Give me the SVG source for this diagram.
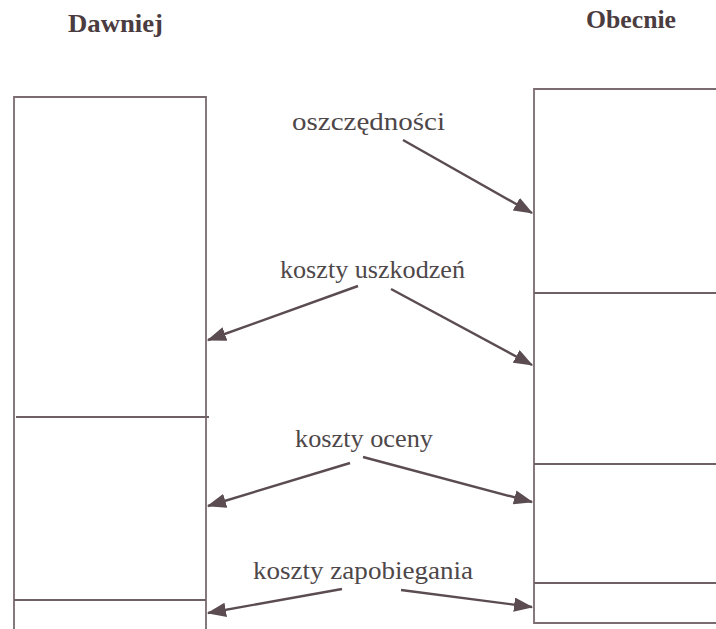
<svg xmlns="http://www.w3.org/2000/svg" width="716" height="629" viewBox="0 0 716 629">
<style>
.box{fill:none;stroke:#7a6c70;stroke-width:1.8}
.div{stroke:#6e6064;stroke-width:1.8}
.head{font-family:"Liberation Serif","Times New Roman",serif;font-weight:bold;font-size:26px;fill:#4a3c40}
.lbl{font-family:"Liberation Serif","Times New Roman",serif;font-size:26px;fill:#4e4749}
.arr{stroke:#5a4c50;stroke-width:2.4;fill:none;marker-end:url(#ah)}
</style>
<defs>
<marker id="ah" markerWidth="8" markerHeight="6" refX="7.5" refY="3" orient="auto" markerUnits="strokeWidth">
<path d="M0,0 L8,3 L0,6 Z" fill="#5a4c50"/>
</marker>
</defs>
<rect width="716" height="629" fill="#ffffff"/>
<g id="dawniej">
<text class="head" x="68" y="32" textLength="95" lengthAdjust="spacingAndGlyphs">Dawniej</text>
<path class="box" d="M14,631 V97 H206 V631"/>
<line class="div" x1="16" y1="417" x2="209" y2="417"/>
<line class="div" x1="14" y1="600" x2="206" y2="600"/>
</g>
<g id="obecnie">
<text class="head" x="586" y="28" textLength="90" lengthAdjust="spacingAndGlyphs">Obecnie</text>
<path class="box" d="M720,89 H534 V623 H720"/>
<line class="div" x1="534" y1="293" x2="720" y2="293"/>
<line class="div" x1="534" y1="464" x2="720" y2="464"/>
<line class="div" x1="534" y1="583" x2="720" y2="583"/>
</g>
<g id="labels">
<text class="lbl" x="292" y="130" textLength="153" lengthAdjust="spacingAndGlyphs">oszczędności</text>
<text class="lbl" x="280" y="278" textLength="185" lengthAdjust="spacingAndGlyphs">koszty uszkodzeń</text>
<text class="lbl" x="295" y="447" textLength="138" lengthAdjust="spacingAndGlyphs">koszty oceny</text>
<text class="lbl" x="253" y="579" textLength="220" lengthAdjust="spacingAndGlyphs">koszty zapobiegania</text>
</g>
<g id="connectors">
<line class="arr" x1="403" y1="140" x2="532" y2="213"/>
<line class="arr" x1="358" y1="286" x2="208" y2="340"/>
<line class="arr" x1="391" y1="289" x2="532" y2="365"/>
<line class="arr" x1="350" y1="463" x2="208" y2="506"/>
<line class="arr" x1="363" y1="457" x2="532" y2="502"/>
<line class="arr" x1="342" y1="589" x2="208" y2="613"/>
<line class="arr" x1="401" y1="590" x2="532" y2="607"/>
</g>
</svg>
